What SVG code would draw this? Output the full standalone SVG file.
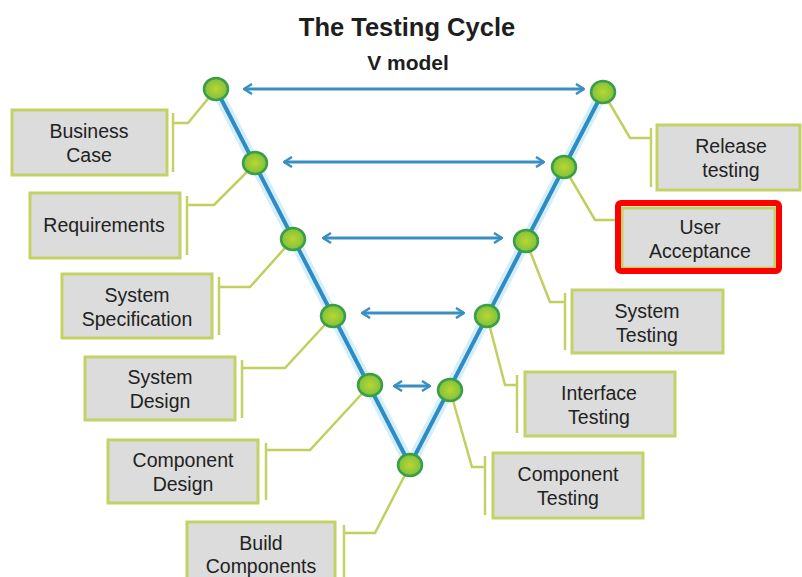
<svg xmlns="http://www.w3.org/2000/svg" width="802" height="577" viewBox="0 0 802 577">
<defs>
<style>
.box{fill:#dcdcdc;stroke:#c4d166;stroke-width:3}
.br{stroke:#c4d166;stroke-width:2.5;fill:none}
.lead{stroke:#c2cf5e;stroke-width:2.5;fill:none}
.lbl{font-family:"Liberation Sans",Arial,sans-serif;font-size:19.5px;fill:#222222;text-anchor:middle}
.vglow{stroke:#d4eefa;stroke-width:11;fill:none;stroke-linecap:round}
.vline{stroke:#2d8cc6;stroke-width:4;fill:none;stroke-linecap:round;stroke-linejoin:round}
.arr{stroke:#3a8fc2;stroke-width:3;fill:none;marker-start:url(#ah);marker-end:url(#ah)}
.pt{fill:url(#pg);stroke:#3a9e48;stroke-width:2.5}
.title{font-family:"Liberation Sans",Arial,sans-serif;font-weight:bold;fill:#1e1e1e;text-anchor:middle}
</style>
<marker id="ah" viewBox="0 0 10 12" refX="9" refY="6" markerWidth="10" markerHeight="12" markerUnits="userSpaceOnUse" orient="auto-start-reverse">
<path d="M1,1 L9,6 L1,11" fill="none" stroke="#3a8fc2" stroke-width="2.5"/>
</marker>
<radialGradient id="pg" cx="0.5" cy="0.5" r="0.5">
<stop offset="0" stop-color="#bcd531"/>
<stop offset="1" stop-color="#7cc23d"/>
</radialGradient>
</defs>
<rect width="802" height="577" fill="#ffffff"/>
<text class="title" x="407" y="36" font-size="25.5">The Testing Cycle</text>
<text class="title" x="408" y="70" font-size="21">V model</text>

<g id="connectors">
<path class="vglow" d="M216,89 L410,465 L603,92"/>
<path class="vline" d="M216,89 L410,465 L603,92"/>
<line class="arr" x1="244" y1="89" x2="584" y2="89"/>
<line class="arr" x1="284" y1="162" x2="544" y2="162"/>
<line class="arr" x1="323" y1="238" x2="502" y2="238"/>
<line class="arr" x1="362" y1="313" x2="464" y2="313"/>
<line class="arr" x1="394" y1="386" x2="430" y2="386"/>
<path class="lead" d="M173,123 H188 L216,89"/>
<path class="lead" d="M187,205 H214 L256,163"/>
<path class="lead" d="M219,287 H250 L293,239"/>
<path class="lead" d="M242,368 H285 L333,316"/>
<path class="lead" d="M266,450 H310 L370,385"/>
<path class="lead" d="M344,533 H375 L410,465"/>
<path class="lead" d="M603,92 L630,138 H651"/>
<path class="lead" d="M564,167 L595,220 H617"/>
<path class="lead" d="M526,241 L550,302 H565"/>
<path class="lead" d="M487,316 L505,385 H517"/>
<path class="lead" d="M450,390 L472,467 H485"/>
</g>

<g id="business-case">
<rect class="box" x="12" y="110" width="155" height="65"/>
<line class="br" x1="173" y1="113" x2="173" y2="172"/>
<text class="lbl" x="89" y="138">Business</text>
<text class="lbl" x="89" y="162">Case</text>
</g>
<g id="requirements">
<rect class="box" x="30" y="193" width="150" height="65"/>
<line class="br" x1="187" y1="196" x2="187" y2="255"/>
<text class="lbl" x="104" y="232">Requirements</text>
</g>
<g id="system-specification">
<rect class="box" x="62" y="274" width="150" height="64"/>
<line class="br" x1="219" y1="277" x2="219" y2="335"/>
<text class="lbl" x="137" y="302">System</text>
<text class="lbl" x="137" y="326">Specification</text>
</g>
<g id="system-design">
<rect class="box" x="85" y="357" width="150" height="63"/>
<line class="br" x1="242" y1="360" x2="242" y2="418"/>
<text class="lbl" x="160" y="384">System</text>
<text class="lbl" x="160" y="408">Design</text>
</g>
<g id="component-design">
<rect class="box" x="108" y="440" width="150" height="63"/>
<line class="br" x1="266" y1="443" x2="266" y2="500"/>
<text class="lbl" x="183" y="467">Component</text>
<text class="lbl" x="183" y="491">Design</text>
</g>
<g id="build-components">
<rect class="box" x="187" y="522" width="148" height="62"/>
<line class="br" x1="344" y1="525" x2="344" y2="577"/>
<text class="lbl" x="261" y="550">Build</text>
<text class="lbl" x="261" y="573">Components</text>
</g>
<g id="release-testing">
<rect class="box" x="657" y="125" width="143" height="65"/>
<line class="br" x1="651" y1="128" x2="651" y2="187"/>
<text class="lbl" x="731" y="153">Release</text>
<text class="lbl" x="731" y="177">testing</text>
</g>
<g id="user-acceptance">
<rect class="box" x="622" y="208" width="153" height="60"/>
<text class="lbl" x="700" y="234">User</text>
<text class="lbl" x="700" y="258">Acceptance</text>
<rect x="618" y="203" width="161" height="68" rx="3" fill="none" stroke="#ff0000" stroke-width="6"/>
</g>
<g id="system-testing">
<rect class="box" x="572" y="290" width="151" height="63"/>
<line class="br" x1="565" y1="293" x2="565" y2="350"/>
<text class="lbl" x="647" y="318">System</text>
<text class="lbl" x="647" y="342">Testing</text>
</g>
<g id="interface-testing">
<rect class="box" x="525" y="372" width="150" height="64"/>
<line class="br" x1="517" y1="375" x2="517" y2="433"/>
<text class="lbl" x="599" y="400">Interface</text>
<text class="lbl" x="599" y="424">Testing</text>
</g>
<g id="component-testing">
<rect class="box" x="493" y="453" width="150" height="65"/>
<line class="br" x1="485" y1="456" x2="485" y2="515"/>
<text class="lbl" x="568" y="481">Component</text>
<text class="lbl" x="568" y="505">Testing</text>
</g>

<g id="v-points">
<ellipse class="pt" cx="216" cy="89" rx="12" ry="11"/>
<ellipse class="pt" cx="255" cy="163" rx="12" ry="11"/>
<ellipse class="pt" cx="293" cy="239" rx="12" ry="11"/>
<ellipse class="pt" cx="333" cy="316" rx="12" ry="11"/>
<ellipse class="pt" cx="370" cy="385" rx="12" ry="11"/>
<ellipse class="pt" cx="410" cy="465" rx="12" ry="11"/>
<ellipse class="pt" cx="603" cy="92" rx="12" ry="11"/>
<ellipse class="pt" cx="564" cy="167" rx="12" ry="11"/>
<ellipse class="pt" cx="526" cy="241" rx="12" ry="11"/>
<ellipse class="pt" cx="487" cy="316" rx="12" ry="11"/>
<ellipse class="pt" cx="450" cy="390" rx="12" ry="11"/>
</g>
</svg>
